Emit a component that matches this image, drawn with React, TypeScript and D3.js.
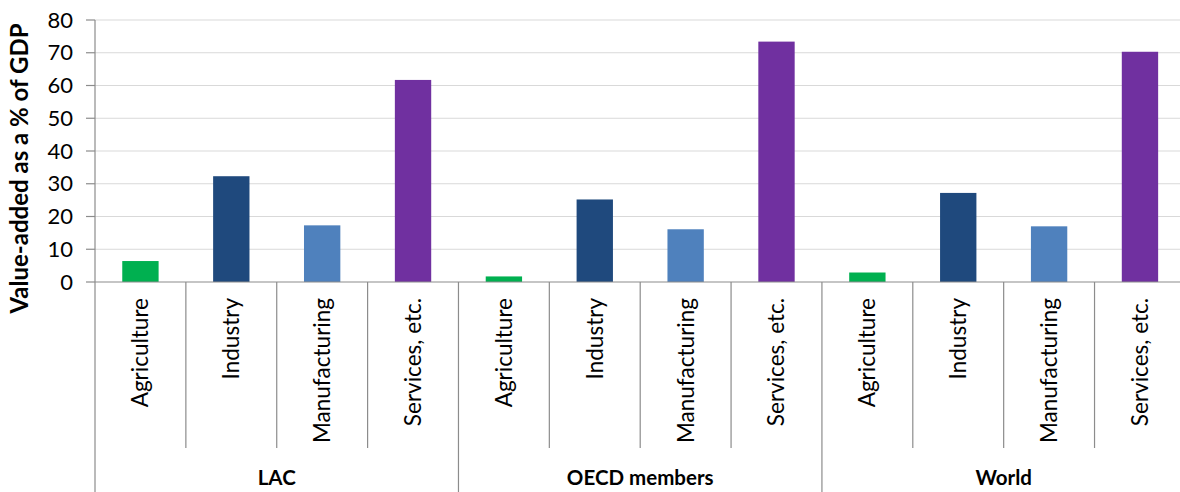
import React from "react";
import * as d3 from "d3";

const groups = ["LAC", "OECD members", "World"];
const sectors = ["Agriculture", "Industry", "Manufacturing", "Services, etc."];
const lacValues = [6.4, 32.3, 17.3, 61.7];
const oecdValues = [1.7, 25.2, 16.1, 73.4];
const worldValues = [2.9, 27.2, 17.0, 70.3];
const yTicks = [0, 10, 20, 30, 40, 50, 60, 70, 80];
const sectorColors = ["#00B050", "#1F497D", "#4F81BD", "#7030A0"];
const yTitle = "Value-added as a % of GDP";

const seriesByGroup = [lacValues, oecdValues, worldValues];

const W = 1180;
const H = 492;
const left = 95;
const right = 1185.4;
const top = 20;
const bottom = 282;
const FONT = "Lato, 'Open Sans', sans-serif";

export default function App() {
  const items = groups.flatMap((g, gi) =>
    sectors.map((s, si) => ({ key: `${g}-${s}`, group: g, sector: s, si, value: seriesByGroup[gi][si] }))
  );
  const x = d3.scaleBand<string>().domain(items.map((d) => d.key)).range([left, right]).padding(0);
  const gx = d3.scaleBand<string>().domain(groups).range([left, right]).padding(0);
  const y = d3.scaleLinear().domain([0, 80]).range([bottom, top]);
  const bw = x.bandwidth() * 0.4;
  const axisColor = "#8c8c8c";

  return (
    <svg width={W} height={H} style={{ position: "absolute", left: 0, top: 0, background: "#fff" }}>
      {yTicks.filter((t) => t > 0).map((t) => (
        <line key={t} x1={left} x2={right} y1={y(t)} y2={y(t)} stroke="#d9d9d9" strokeWidth={1.2} />
      ))}
      {items.map((d) => (
        <rect
          key={d.key}
          x={(x(d.key) as number) + (x.bandwidth() - bw) / 2}
          y={y(d.value)}
          width={bw}
          height={y(0) - y(d.value)}
          fill={sectorColors[d.si]}
        />
      ))}
      <line x1={left} x2={left} y1={top} y2={H} stroke={axisColor} strokeWidth={1.2} />
      {yTicks.map((t) => (
        <g key={t}>
          <line x1={left - 9} x2={left} y1={y(t)} y2={y(t)} stroke={axisColor} strokeWidth={1.2} />
          <text x={73} y={y(t)} dy="0.35em" textAnchor="end" fontFamily={FONT} fontSize={22} fill="#000">
            {t}
          </text>
        </g>
      ))}
      <line x1={left} x2={right} y1={bottom} y2={bottom} stroke={axisColor} strokeWidth={1.2} />
      {items.map((d, i) => {
        const xs = x(d.key) as number;
        if (i === 0) return null;
        const isGroup = d.si === 0;
        return (
          <line key={"sep" + d.key} x1={xs} x2={xs} y1={bottom} y2={isGroup ? H : 448} stroke={axisColor} strokeWidth={1.2} />
        );
      })}
      {items.map((d) => {
        const cx = (x(d.key) as number) + x.bandwidth() / 2;
        return (
          <text
            key={"lbl" + d.key}
            transform={`translate(${cx},298) rotate(-90)`}
            textAnchor="end"
            dy="0.35em"
            fontFamily={FONT}
            fontSize={22.5}
            fill="#000"
          >
            {d.sector}
          </text>
        );
      })}
      {groups.map((g) => (
        <text
          key={"g" + g}
          x={(gx(g) as number) + gx.bandwidth() / 2}
          y={485}
          textAnchor="middle"
          fontFamily={FONT}
          fontWeight="bold"
          fontSize={20.5}
          fill="#000"
        >
          {g}
        </text>
      ))}
      <text
        transform={`translate(20,168.5) rotate(-90)`}
        textAnchor="middle"
        dy="0.35em"
        fontFamily={FONT}
        fontWeight="bold"
        fontSize={24}
        fill="#000"
      >
        {yTitle}
      </text>
    </svg>
  );
}
